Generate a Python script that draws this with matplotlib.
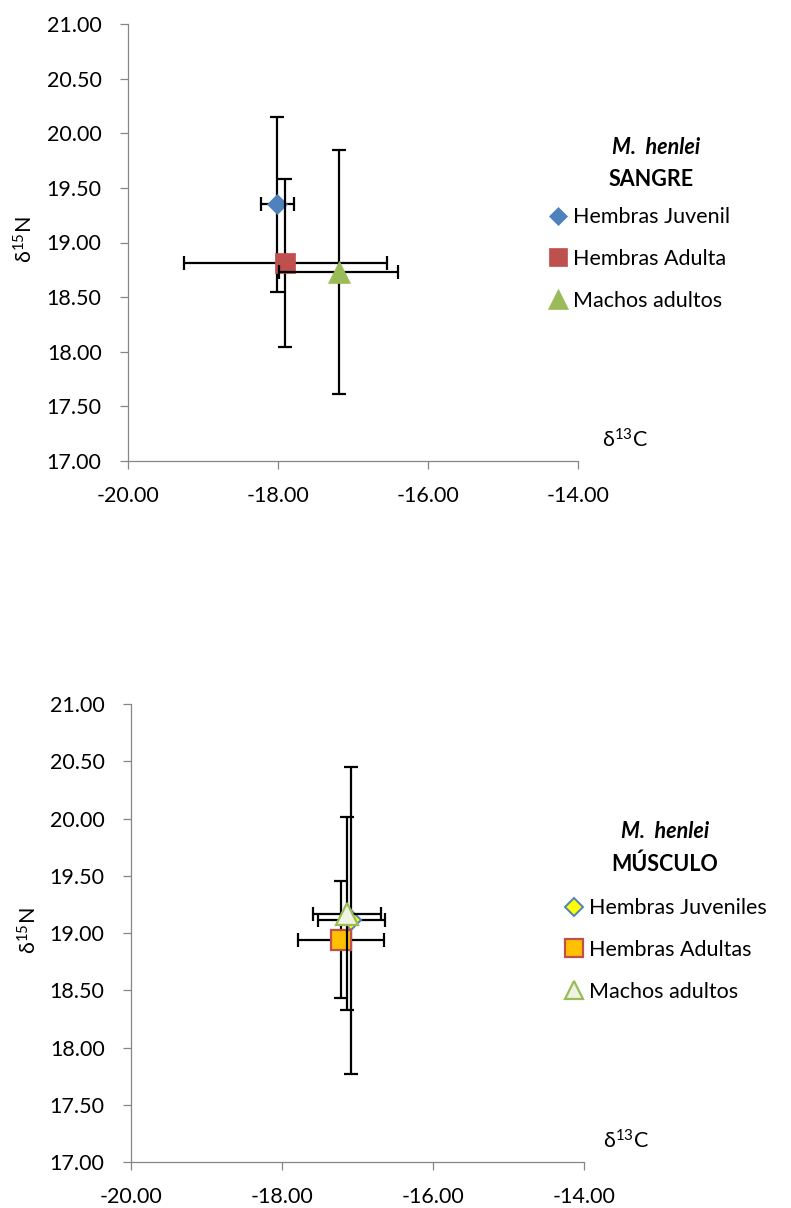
import matplotlib
matplotlib.use('Agg')
import matplotlib.pyplot as plt
from matplotlib.ticker import FormatStrFormatter

plt.rcParams['font.family'] = ['Lato', 'DejaVu Sans']
plt.rcParams['mathtext.default'] = 'regular'

# ---------------- data ----------------
sangre_groups = ['Hembras Juvenil', 'Hembras Adulta', 'Machos adultos']
sangre_d13c = [-18.01, -17.90, -17.19]
sangre_d13c_sd = [0.22, 1.36, 0.79]
sangre_d15n = [19.35, 18.81, 18.73]
sangre_d15n_sd = [0.80, 0.77, 1.12]

musculo_groups = ['Hembras Juveniles', 'Hembras Adultas', 'Machos adultos']
musculo_d13c = [-17.08, -17.22, -17.14]
musculo_d13c_sd = [0.44, 0.57, 0.45]
musculo_d15n = [19.11, 18.94, 19.17]
musculo_d15n_sd = [1.34, 0.51, 0.84]

x_ticks = [-20.0, -18.0, -16.0, -14.0]
y_ticks = [17.0, 17.5, 18.0, 18.5, 19.0, 19.5, 20.0, 20.5, 21.0]

# ---------------- styles ----------------
sangre_styles = [
    dict(marker='D', ms=10.5, mfc='#4F81BD', mec='#4F81BD', mew=0.5),
    dict(marker='s', ms=15.0, mfc='#C0504D', mec='#C0504D', mew=0.5),
    dict(marker='^', ms=16.0, mfc='#9BBB59', mec='#9BBB59', mew=0.5),
]
musculo_styles = [
    dict(marker='D', ms=10.0, mfc='#FFFF00', mec='#4F81BD', mew=1.4),
    dict(marker='s', ms=14.5, mfc='#FFC000', mec='#C0504D', mew=1.6),
    dict(marker='^', ms=15.5, mfc='#EEF3E2', mec='#9BBB59', mew=1.6),
]

W, H = 791, 1208
fig = plt.figure(figsize=(W / 100, H / 100), dpi=100)
fig.patch.set_facecolor('white')

AX_GRAY = '#868686'
FS = 15.5


def style_axes(ax):
    ax.set_xlim(x_ticks[0], x_ticks[-1])
    ax.set_ylim(y_ticks[0], y_ticks[-1])
    ax.set_xticks(x_ticks)
    ax.set_yticks(y_ticks)
    ax.xaxis.set_major_formatter(FormatStrFormatter('%.2f'))
    ax.yaxis.set_major_formatter(FormatStrFormatter('%.2f'))
    for s in ['top', 'right']:
        ax.spines[s].set_visible(False)
    for s in ['left', 'bottom']:
        ax.spines[s].set_color(AX_GRAY)
        ax.spines[s].set_linewidth(0.9)
    ax.tick_params(axis='both', direction='out', length=6, width=0.9,
                   color=AX_GRAY, labelsize=FS, labelcolor='black')
    ax.tick_params(axis='y', pad=13)
    ax.tick_params(axis='x', pad=12)
    ax.patch.set_alpha(0)


def draw(ax, xs, xe, ys, ye, labels, styles):
    handles = []
    for i in range(len(xs)):
        eb = ax.errorbar([xs[i]], [ys[i]], xerr=[xe[i]], yerr=[ye[i]], fmt='none',
                         ecolor='black', elinewidth=1.6, capsize=5, capthick=1.6,
                         zorder=3 + 2 * i)
        for art in list(eb.lines[1]) + list(eb.lines[2]):
            art.set_clip_on(False)
        h, = ax.plot([xs[i]], [ys[i]], linestyle='none', zorder=4 + 2 * i,
                     label=labels[i], clip_on=False, **styles[i])
        handles.append(h)
    return handles


# ---------- top: SANGRE ----------
ax1 = fig.add_axes([128 / W, 1 - 461 / H, 450 / W, 437 / H])
style_axes(ax1)
h1 = draw(ax1, sangre_d13c, sangre_d13c_sd, sangre_d15n, sangre_d15n_sd,
          sangre_groups, sangre_styles)
fig.text(25 / W, 1 - 240 / H, r'$\delta^{15}$N', rotation=90, fontsize=FS,
         ha='center', va='center')
fig.text(625 / W, 1 - 440 / H, r'$\delta^{13}$C', fontsize=FS, ha='center', va='center')
fig.text(656 / W, 1 - 148 / H, 'M.  henlei', fontsize=FS, fontweight='bold',
         fontstyle='italic', ha='center', va='center')
fig.text(651 / W, 1 - 179 / H, 'SANGRE', fontsize=FS, fontweight='bold',
         ha='center', va='center')
ax1.legend(handles=h1, loc='center left',
           bbox_to_anchor=(549 / W, 1 - 259 / H), bbox_transform=fig.transFigure,
           frameon=False, fontsize=FS, markerscale=0.88, handlelength=0.8,
           handletextpad=0.3, labelspacing=1.0, borderpad=0, borderaxespad=0)

# ---------- bottom: MUSCULO ----------
ax2 = fig.add_axes([131 / W, 1 - 1162 / H, 453 / W, 458 / H])
style_axes(ax2)
h2 = draw(ax2, musculo_d13c, musculo_d13c_sd, musculo_d15n, musculo_d15n_sd,
          musculo_groups, musculo_styles)
fig.text(29 / W, 1 - 931 / H, r'$\delta^{15}$N', rotation=90, fontsize=FS,
         ha='center', va='center')
fig.text(626 / W, 1 - 1141 / H, r'$\delta^{13}$C', fontsize=FS, ha='center', va='center')
fig.text(665 / W, 1 - 832 / H, 'M.  henlei', fontsize=FS, fontweight='bold',
         fontstyle='italic', ha='center', va='center')
fig.text(665 / W, 1 - 864 / H, 'MÚSCULO', fontsize=FS, fontweight='bold',
         ha='center', va='center')
ax2.legend(handles=h2, loc='center left',
           bbox_to_anchor=(565 / W, 1 - 950 / H), bbox_transform=fig.transFigure,
           frameon=False, fontsize=FS, markerscale=0.88, handlelength=0.8,
           handletextpad=0.3, labelspacing=1.0, borderpad=0, borderaxespad=0)

fig.savefig('out.png', dpi=100, facecolor='white')
